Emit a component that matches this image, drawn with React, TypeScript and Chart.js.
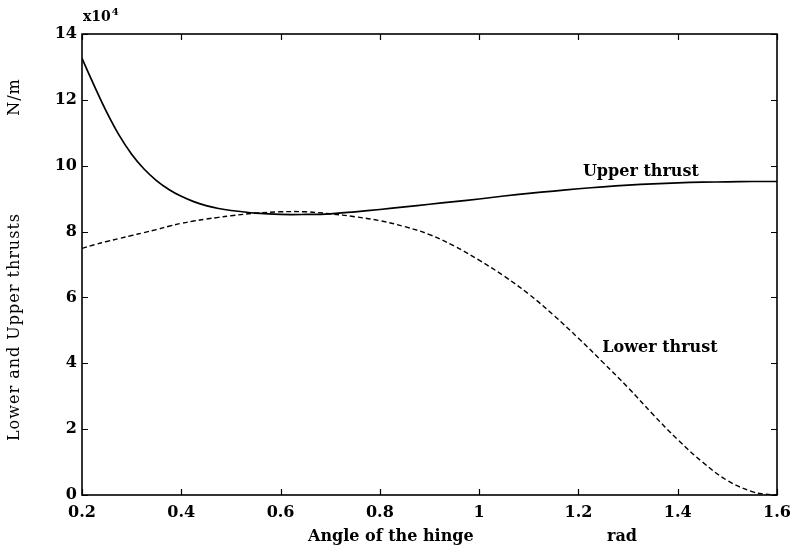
import React, { useEffect, useRef } from "react";
import { Chart, registerables } from "chart.js";

Chart.register(...registerables);

// ---- data ----
const angle = [0.2, 0.225, 0.25, 0.275, 0.3, 0.325, 0.35, 0.375, 0.4, 0.425, 0.45, 0.475, 0.5, 0.55, 0.6, 0.65, 0.7, 0.75, 0.8, 0.85, 0.9, 0.95, 1.0, 1.05, 1.1, 1.15, 1.2, 1.25, 1.3, 1.35, 1.4, 1.45, 1.5, 1.55, 1.575, 1.6];
const upperThrust = [13.26, 12.42, 11.62, 10.92, 10.35, 9.9, 9.55, 9.28, 9.07, 8.91, 8.79, 8.7, 8.64, 8.56, 8.52, 8.52, 8.54, 8.6, 8.67, 8.75, 8.83, 8.91, 8.99, 9.08, 9.16, 9.23, 9.3, 9.36, 9.41, 9.45, 9.48, 9.5, 9.51, 9.52, 9.52, 9.52];
const lowerThrust = [7.49, 7.6, 7.7, 7.79, 7.88, 7.97, 8.06, 8.16, 8.25, 8.32, 8.38, 8.43, 8.48, 8.56, 8.6, 8.6, 8.54, 8.45, 8.33, 8.15, 7.91, 7.56, 7.13, 6.65, 6.1, 5.46, 4.76, 4.02, 3.26, 2.45, 1.68, 1.0, 0.44, 0.1, 0.03, 0.0];
const xTickValues = [0.2, 0.4, 0.6, 0.8, 1.0, 1.2, 1.4, 1.6];
const yTickValues = [0, 2, 4, 6, 8, 10, 12, 14];
const upperLabel = { text: "Upper thrust", x: 1.209, y: 9.81 };
const lowerLabel = { text: "Lower thrust", x: 1.248, y: 4.46 };

const SERIF = '"DejaVu Serif", serif';

const framePlugin = {
  id: "framePlugin",
  afterDraw(chart: any) {
    const { ctx, chartArea, scales } = chart;
    const { left, right, top, bottom } = chartArea;
    const xs = scales.x;
    const ys = scales.y;
    ctx.save();
    ctx.strokeStyle = "#000";
    ctx.lineWidth = 1.6;
    ctx.strokeRect(left, top, right - left, bottom - top);
    ctx.lineWidth = 1.2;
    const tl = 6;
    ctx.beginPath();
    for (const v of xTickValues) {
      const px = Math.round(xs.getPixelForValue(v)) + 0.5;
      ctx.moveTo(px, bottom);
      ctx.lineTo(px, bottom - tl);
      ctx.moveTo(px, top);
      ctx.lineTo(px, top + tl);
    }
    for (const v of yTickValues) {
      const py = Math.round(ys.getPixelForValue(v)) + 0.5;
      ctx.moveTo(left, py);
      ctx.lineTo(left + tl, py);
      ctx.moveTo(right, py);
      ctx.lineTo(right - tl, py);
    }
    ctx.stroke();

    ctx.fillStyle = "#000";
    ctx.textBaseline = "middle";
    ctx.textAlign = "left";
    // curve labels
    ctx.font = `bold 16px ${SERIF}`;
    ctx.fillText(upperLabel.text, xs.getPixelForValue(upperLabel.x), ys.getPixelForValue(upperLabel.y));
    ctx.fillText(lowerLabel.text, xs.getPixelForValue(lowerLabel.x), ys.getPixelForValue(lowerLabel.y));

    // x axis titles
    ctx.fillText("Angle of the hinge", 308, 537);
    ctx.fillText("rad", 607, 537);

    // multiplier
    ctx.textBaseline = "alphabetic";
    ctx.font = `bold 14px ${SERIF}`;
    ctx.fillText("x10", 83, 21);
    const w = ctx.measureText("x10").width;
    ctx.font = `bold 10px ${SERIF}`;
    ctx.fillText("4", 83 + w + 1, 15);

    // y axis titles (rotated)
    ctx.textBaseline = "middle";
    ctx.textAlign = "center";
    ctx.font = `16px ${SERIF}`;
    (ctx as any).letterSpacing = "1px";
    ctx.save();
    ctx.translate(15, 97);
    ctx.rotate(-Math.PI / 2);
    ctx.fillText("N/m", 0, 0);
    ctx.restore();
    ctx.save();
    ctx.translate(15, 327);
    ctx.rotate(-Math.PI / 2);
    ctx.fillText("Lower and Upper thrusts", 0, 0);
    ctx.restore();
    (ctx as any).letterSpacing = "0px";
    ctx.restore();
  },
};

export default function App() {
  const canvasRef = useRef<HTMLCanvasElement | null>(null);

  useEffect(() => {
    const canvas = canvasRef.current;
    if (!canvas) return;
    const chart = new Chart(canvas, {
      type: "line",
      data: {
        datasets: [
          {
            label: "Upper thrust",
            data: angle.map((a, i) => ({ x: a, y: upperThrust[i] })),
            borderColor: "#000",
            borderWidth: 1.7,
            pointRadius: 0,
            tension: 0.4,
            fill: false,
          },
          {
            label: "Lower thrust",
            data: angle.map((a, i) => ({ x: a, y: lowerThrust[i] })),
            borderColor: "#000",
            borderWidth: 1.4,
            borderDash: [5, 3],
            pointRadius: 0,
            tension: 0.4,
            fill: false,
          },
        ],
      },
      options: {
        responsive: false,
        animation: false,
        layout: { padding: { top: 34, right: 19, left: 0, bottom: 0 } },
        plugins: { legend: { display: false }, tooltip: { enabled: false } },
        scales: {
          x: {
            type: "linear",
            min: 0.2,
            max: 1.6,
            grid: { display: false, drawTicks: false },
            border: { display: false },
            afterBuildTicks: (s: any) => {
              s.ticks = xTickValues.map((v) => ({ value: v }));
            },
            afterFit: (s: any) => {
              s.height = 57;
              s.paddingLeft = 0;
              s.paddingRight = 0;
            },
            ticks: {
              padding: 8,
              maxRotation: 0,
              autoSkip: false,
              color: "#000",
              font: { family: SERIF, size: 16, weight: "bold" },
              callback: (v: any) => String(Math.round(Number(v) * 10) / 10),
            },
          },
          y: {
            type: "linear",
            min: 0,
            max: 14,
            grid: { display: false, drawTicks: false },
            border: { display: false },
            afterBuildTicks: (s: any) => {
              s.ticks = yTickValues.map((v) => ({ value: v }));
            },
            afterFit: (s: any) => {
              s.width = 82;
              s.paddingTop = 0;
              s.paddingBottom = 0;
            },
            ticks: {
              padding: 5,
              autoSkip: false,
              color: "#000",
              font: { family: SERIF, size: 16, weight: "bold" },
              callback: (v: any) => String(v),
            },
          },
        },
      },
      plugins: [framePlugin],
    });
    return () => chart.destroy();
  }, []);

  return (
    <div style={{ position: "fixed", left: 0, top: 0, width: 796, height: 552, background: "#fff" }}>
      <canvas ref={canvasRef} width={796} height={552} style={{ width: 796, height: 552 }} />
    </div>
  );
}
